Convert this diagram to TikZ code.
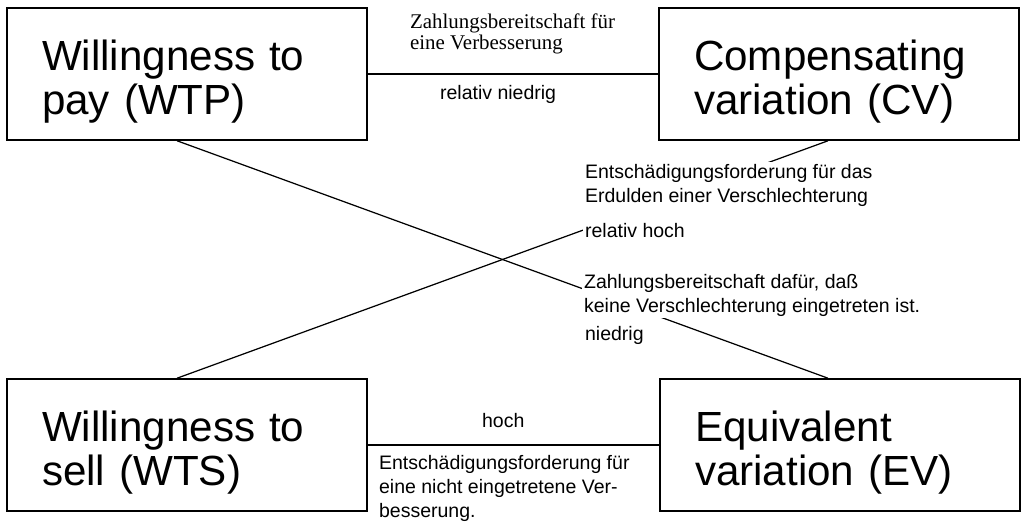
\documentclass[tikz,border=0pt]{standalone}
\usepackage{fontspec}
\setmainfont{Liberation Sans}
\newfontfamily\timesfont{Liberation Serif}

\begin{document}
\begin{tikzpicture}[
    x=0.02cm, y=-0.02cm,
    measure/.style={rectangle, draw, line width=0.9pt, minimum width=7.2cm, minimum height=2.64cm, text width=5.8cm, inner xsep=0.7cm, inner ysep=0pt, align=left, font=\fontsize{24}{25}\selectfont, execute at begin node=\rule{0pt}{0.92cm}},
    note/.style={align=left, inner sep=1pt, fill=white, font=\fontsize{11.1}{13.6}\selectfont},
    link/.style={line width=0.7pt}
]
\useasboundingbox (0,0) rectangle (1023,523);

% Boxes for the four measures
\node[measure] (wtp) at (187,74) {Willingness to\\pay (WTP)};
\node[measure] (cv) at (839,74) {Compensating\\variation (CV)};
\node[measure] (wts) at (187,445) {Willingness to\\sell (WTS)};
\node[measure] (ev) at (840,445) {Equivalent\\variation (EV)};

% Connections (straight ones and the cross)
\draw[link] (wtp) -- (cv);
\draw[link] (wts) -- (ev);
\draw[link] ([xshift=-0.2cm]wtp.south) -- ([xshift=-0.24cm]ev.north);
\draw[link] ([xshift=-0.2cm]wts.north) -- ([xshift=-0.22cm]cv.south);

% Labels on the upper connection (base = last line)
\node[note, font=\timesfont\fontsize{11.9}{12.5}\selectfont, anchor=base west] (paytext) at (408,50) {Zahlungsbereitschaft für\\eine Verbesserung};
\node[note, anchor=base west] (paylow) at (438,100) {relativ niedrig};

% Labels on the cross
\node[note, anchor=base west] (cvtext) at (583,238) {Entschädigungsforderung für das\\Erdulden einer Verschlechterung\\[0.24cm]relativ hoch};
\node[note, anchor=base west] (evtext) at (582,312) {Zahlungsbereitschaft dafür, daß\\keine Verschlechterung eingetreten ist.};
\node[note, anchor=base west] (evlow) at (583,340) {niedrig};

% Labels on the lower connection
\node[note, anchor=base west] (sellhigh) at (480,427) {hoch};
\node[note, anchor=base west] (selltext) at (377,517) {Entschädigungsforderung für\\eine nicht eingetretene Ver-\\besserung.};

\end{tikzpicture}
\end{document}
